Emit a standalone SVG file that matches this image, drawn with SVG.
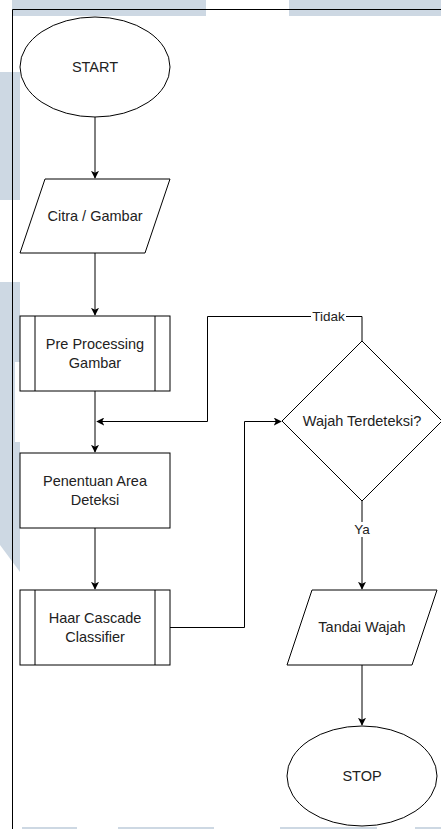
<svg xmlns="http://www.w3.org/2000/svg" width="441" height="829" viewBox="0 0 441 829">
<style>
.wm{fill:#cdd8e3}
.shape{fill:#fff;stroke:#000;stroke-width:1}
.line{fill:none;stroke:#000;stroke-width:1}
.t{font-family:"Liberation Sans",Arial,sans-serif;font-size:14.5px;fill:#222;text-anchor:middle;dominant-baseline:central}
.lbl{font-family:"Liberation Sans",Arial,sans-serif;font-size:13.5px;fill:#222;text-anchor:middle;dominant-baseline:central}
</style>
<defs>
<marker id="arr" viewBox="0 0 10 10" refX="9" refY="5" markerWidth="8" markerHeight="8" markerUnits="userSpaceOnUse" orient="auto">
<path d="M0,0 L10,5 L0,10 L2.5,5 Z" fill="#000"/>
</marker>
</defs>
<rect width="441" height="829" fill="#fff"/>
<g id="watermark">
<rect class="wm" x="12" y="0" width="194" height="16"/>
<rect class="wm" x="289" y="0" width="152" height="16"/>
<rect class="wm" x="0" y="72" width="20" height="128"/>
<polygon class="wm" points="0,282 20,282 20,362 15,362 15,442 20,442 20,572 0,545"/>
<rect class="wm" x="22" y="827" width="55" height="2"/>
<rect class="wm" x="118" y="827" width="96" height="2"/>
<rect class="wm" x="280" y="827" width="97" height="2"/>
<rect class="wm" x="415" y="827" width="26" height="2"/>
</g>
<g id="frame">
<path class="line" d="M12.5,829 V9.5 H441" stroke="#222"/>
</g>
<g id="connectors">
<path class="line" d="M95,117 V178" marker-end="url(#arr)"/>
<path class="line" d="M95,253 V315" marker-end="url(#arr)"/>
<path class="line" d="M95,391 V452" marker-end="url(#arr)"/>
<path class="line" d="M95,528 V589" marker-end="url(#arr)"/>
<path class="line" d="M170,627.5 H244.5 V421.5 H281" marker-end="url(#arr)"/>
<path class="line" d="M362,341 V316.5 H207.5 V421.5 H97" marker-end="url(#arr)"/>
<path class="line" d="M362,501 V589" marker-end="url(#arr)"/>
<path class="line" d="M362,665 V725" marker-end="url(#arr)"/>
<rect x="311" y="309" width="35" height="15" fill="#fff"/>
<text class="lbl" x="328.5" y="316.5">Tidak</text>
<rect x="353" y="522" width="18" height="15" fill="#fff"/>
<text class="lbl" x="362" y="529">Ya</text>
</g>
<g id="start">
<ellipse class="shape" cx="95" cy="67" rx="75" ry="50"/>
<text class="t" x="95" y="67">START</text>
</g>
<g id="citra">
<polygon class="shape" points="45,179 170,179 145,253 20,253"/>
<text class="t" x="95" y="216">Citra / Gambar</text>
</g>
<g id="preprocessing">
<rect class="shape" x="20" y="316" width="150" height="75"/>
<path class="line" d="M35,316 V391 M155,316 V391"/>
<text class="t" x="95" y="344">Pre Processing</text>
<text class="t" x="95" y="363">Gambar</text>
</g>
<g id="penentuan">
<rect class="shape" x="20" y="453" width="150" height="75"/>
<text class="t" x="95" y="481">Penentuan Area</text>
<text class="t" x="95" y="500">Deteksi</text>
</g>
<g id="haar">
<rect class="shape" x="20" y="590" width="150" height="75"/>
<path class="line" d="M35,590 V665 M155,590 V665"/>
<text class="t" x="95" y="618">Haar Cascade</text>
<text class="t" x="95" y="637">Classifier</text>
</g>
<g id="decision">
<polygon class="shape" points="362,341 442,421 362,501 282,421"/>
<text class="t" x="362" y="421">Wajah Terdeteksi?</text>
</g>
<g id="tandai">
<polygon class="shape" points="312,590 437,590 412,665 287,665"/>
<text class="t" x="362" y="627">Tandai Wajah</text>
</g>
<g id="stop">
<ellipse class="shape" cx="362" cy="776" rx="75" ry="50"/>
<text class="t" x="362" y="776">STOP</text>
</g>
</svg>
